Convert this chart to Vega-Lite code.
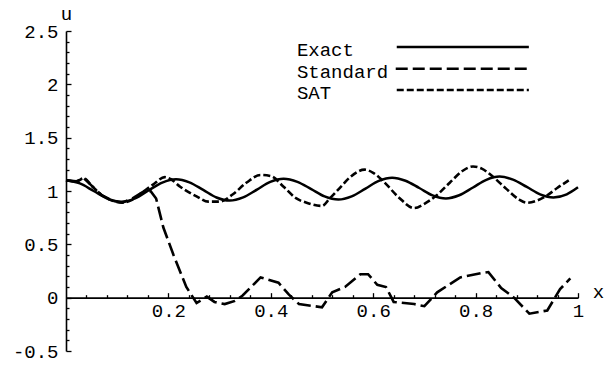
{
  "$schema": "https://vega.github.io/schema/vega-lite/v6.json",
  "width": 512,
  "height": 320,
  "autosize": {"type": "none"},
  "padding": {"left": 66, "top": 31, "right": 32, "bottom": 15},
  "background": "white",
  "config": {
    "view": {"stroke": null},
    "font": "Liberation Mono",
    "axis": {
      "grid": false,
      "domainColor": "black",
      "domainWidth": 1.6,
      "tickColor": "black",
      "tickWidth": 1.3,
      "labelColor": "black",
      "labelFont": "Liberation Mono",
      "labelFontSize": 19,
      "labelOverlap": false,
      "labelFlush": false,
      "titleFont": "Liberation Mono",
      "titleFontSize": 19,
      "titleFontWeight": "normal",
      "titleColor": "black"
    },
    "text": {"font": "Liberation Mono", "fontSize": 19, "color": "black"}
  },
  "datasets": {
    "curves": [
      {"x": 0.0, "u": 1.1, "series": "Exact"},
      {"x": 0.027, "u": 1.071, "series": "Exact"},
      {"x": 0.054, "u": 1.0, "series": "Exact"},
      {"x": 0.081, "u": 0.929, "series": "Exact"},
      {"x": 0.108, "u": 0.9, "series": "Exact"},
      {"x": 0.135, "u": 0.931, "series": "Exact"},
      {"x": 0.161, "u": 1.005, "series": "Exact"},
      {"x": 0.188, "u": 1.079, "series": "Exact"},
      {"x": 0.215, "u": 1.11, "series": "Exact"},
      {"x": 0.241, "u": 1.081, "series": "Exact"},
      {"x": 0.268, "u": 1.01, "series": "Exact"},
      {"x": 0.294, "u": 0.939, "series": "Exact"},
      {"x": 0.32, "u": 0.91, "series": "Exact"},
      {"x": 0.346, "u": 0.94, "series": "Exact"},
      {"x": 0.373, "u": 1.013, "series": "Exact"},
      {"x": 0.399, "u": 1.085, "series": "Exact"},
      {"x": 0.425, "u": 1.115, "series": "Exact"},
      {"x": 0.452, "u": 1.086, "series": "Exact"},
      {"x": 0.479, "u": 1.018, "series": "Exact"},
      {"x": 0.505, "u": 0.949, "series": "Exact"},
      {"x": 0.532, "u": 0.92, "series": "Exact"},
      {"x": 0.558, "u": 0.95, "series": "Exact"},
      {"x": 0.585, "u": 1.023, "series": "Exact"},
      {"x": 0.611, "u": 1.095, "series": "Exact"},
      {"x": 0.637, "u": 1.125, "series": "Exact"},
      {"x": 0.663, "u": 1.096, "series": "Exact"},
      {"x": 0.69, "u": 1.028, "series": "Exact"},
      {"x": 0.716, "u": 0.959, "series": "Exact"},
      {"x": 0.742, "u": 0.93, "series": "Exact"},
      {"x": 0.768, "u": 0.96, "series": "Exact"},
      {"x": 0.795, "u": 1.033, "series": "Exact"},
      {"x": 0.821, "u": 1.105, "series": "Exact"},
      {"x": 0.847, "u": 1.135, "series": "Exact"},
      {"x": 0.873, "u": 1.106, "series": "Exact"},
      {"x": 0.9, "u": 1.038, "series": "Exact"},
      {"x": 0.926, "u": 0.969, "series": "Exact"},
      {"x": 0.952, "u": 0.94, "series": "Exact"},
      {"x": 0.978, "u": 0.969, "series": "Exact"},
      {"x": 1.0, "u": 1.035, "series": "Exact"},

      {"x": 0.0, "u": 1.1, "series": "SAT"},
      {"x": 0.02, "u": 1.09, "series": "SAT"},
      {"x": 0.035, "u": 1.12, "series": "SAT"},
      {"x": 0.05, "u": 1.05, "series": "SAT"},
      {"x": 0.07, "u": 0.96, "series": "SAT"},
      {"x": 0.09, "u": 0.91, "series": "SAT"},
      {"x": 0.11, "u": 0.89, "series": "SAT"},
      {"x": 0.13, "u": 0.92, "series": "SAT"},
      {"x": 0.15, "u": 0.99, "series": "SAT"},
      {"x": 0.17, "u": 1.06, "series": "SAT"},
      {"x": 0.193, "u": 1.13, "series": "SAT"},
      {"x": 0.205, "u": 1.11, "series": "SAT"},
      {"x": 0.223, "u": 1.04, "series": "SAT"},
      {"x": 0.255, "u": 0.95, "series": "SAT"},
      {"x": 0.278, "u": 0.9, "series": "SAT"},
      {"x": 0.3, "u": 0.9, "series": "SAT"},
      {"x": 0.326, "u": 0.97, "series": "SAT"},
      {"x": 0.353, "u": 1.08, "series": "SAT"},
      {"x": 0.38, "u": 1.15, "series": "SAT"},
      {"x": 0.4, "u": 1.14, "series": "SAT"},
      {"x": 0.425, "u": 1.04, "series": "SAT"},
      {"x": 0.45, "u": 0.93, "series": "SAT"},
      {"x": 0.47, "u": 0.89, "series": "SAT"},
      {"x": 0.5, "u": 0.86, "series": "SAT"},
      {"x": 0.515, "u": 0.93, "series": "SAT"},
      {"x": 0.535, "u": 1.03, "series": "SAT"},
      {"x": 0.555, "u": 1.13, "series": "SAT"},
      {"x": 0.583, "u": 1.2, "series": "SAT"},
      {"x": 0.6, "u": 1.17, "series": "SAT"},
      {"x": 0.62, "u": 1.09, "series": "SAT"},
      {"x": 0.65, "u": 0.94, "series": "SAT"},
      {"x": 0.68, "u": 0.84, "series": "SAT"},
      {"x": 0.7, "u": 0.88, "series": "SAT"},
      {"x": 0.724, "u": 0.96, "series": "SAT"},
      {"x": 0.75, "u": 1.08, "series": "SAT"},
      {"x": 0.775, "u": 1.19, "series": "SAT"},
      {"x": 0.795, "u": 1.23, "series": "SAT"},
      {"x": 0.812, "u": 1.21, "series": "SAT"},
      {"x": 0.83, "u": 1.15, "series": "SAT"},
      {"x": 0.86, "u": 1.02, "series": "SAT"},
      {"x": 0.885, "u": 0.92, "series": "SAT"},
      {"x": 0.9, "u": 0.89, "series": "SAT"},
      {"x": 0.92, "u": 0.91, "series": "SAT"},
      {"x": 0.94, "u": 0.96, "series": "SAT"},
      {"x": 0.96, "u": 1.03, "series": "SAT"},
      {"x": 0.982, "u": 1.1, "series": "SAT"},

      {"x": 0.0, "u": 1.1, "series": "Standard"},
      {"x": 0.02, "u": 1.09, "series": "Standard"},
      {"x": 0.035, "u": 1.12, "series": "Standard"},
      {"x": 0.05, "u": 1.05, "series": "Standard"},
      {"x": 0.07, "u": 0.96, "series": "Standard"},
      {"x": 0.09, "u": 0.91, "series": "Standard"},
      {"x": 0.11, "u": 0.89, "series": "Standard"},
      {"x": 0.13, "u": 0.93, "series": "Standard"},
      {"x": 0.15, "u": 0.99, "series": "Standard"},
      {"x": 0.165, "u": 1.0, "series": "Standard"},
      {"x": 0.176, "u": 0.93, "series": "Standard"},
      {"x": 0.19, "u": 0.66, "series": "Standard"},
      {"x": 0.21, "u": 0.4, "series": "Standard"},
      {"x": 0.235, "u": 0.1, "series": "Standard"},
      {"x": 0.255, "u": -0.05, "series": "Standard"},
      {"x": 0.275, "u": 0.01, "series": "Standard"},
      {"x": 0.29, "u": -0.04, "series": "Standard"},
      {"x": 0.31, "u": -0.06, "series": "Standard"},
      {"x": 0.33, "u": -0.03, "series": "Standard"},
      {"x": 0.345, "u": 0.02, "series": "Standard"},
      {"x": 0.38, "u": 0.19, "series": "Standard"},
      {"x": 0.415, "u": 0.14, "series": "Standard"},
      {"x": 0.435, "u": 0.03, "series": "Standard"},
      {"x": 0.455, "u": -0.06, "series": "Standard"},
      {"x": 0.5, "u": -0.09, "series": "Standard"},
      {"x": 0.52, "u": 0.05, "series": "Standard"},
      {"x": 0.545, "u": 0.1, "series": "Standard"},
      {"x": 0.575, "u": 0.22, "series": "Standard"},
      {"x": 0.59, "u": 0.22, "series": "Standard"},
      {"x": 0.608, "u": 0.12, "series": "Standard"},
      {"x": 0.625, "u": 0.1, "series": "Standard"},
      {"x": 0.64, "u": -0.04, "series": "Standard"},
      {"x": 0.68, "u": -0.06, "series": "Standard"},
      {"x": 0.7, "u": -0.08, "series": "Standard"},
      {"x": 0.725, "u": 0.05, "series": "Standard"},
      {"x": 0.77, "u": 0.19, "series": "Standard"},
      {"x": 0.81, "u": 0.23, "series": "Standard"},
      {"x": 0.825, "u": 0.24, "series": "Standard"},
      {"x": 0.85, "u": 0.09, "series": "Standard"},
      {"x": 0.875, "u": 0.0, "series": "Standard"},
      {"x": 0.905, "u": -0.15, "series": "Standard"},
      {"x": 0.94, "u": -0.12, "series": "Standard"},
      {"x": 0.965, "u": 0.08, "series": "Standard"},
      {"x": 0.985, "u": 0.18, "series": "Standard"}
    ],
    "key": [
      {"series": "Exact"}
    ]
  },
  "resolve": {"axis": {"x": "independent", "y": "independent"}},
  "layer": [
    {
      "description": "Invisible carrier for the minor tick marks on both axes",
      "data": {"name": "curves"},
      "mark": {"type": "line", "strokeOpacity": 0},
      "encoding": {
        "x": {
          "field": "x", "type": "quantitative",
          "scale": {"domain": [0, 1], "nice": false, "zero": false},
          "axis": {
            "orient": "bottom", "offset": -53.333, "domain": false, "labels": false,
            "title": null, "tickSize": -3,
            "values": [0.04, 0.08, 0.12, 0.16, 0.24, 0.28, 0.32, 0.36, 0.44, 0.48, 0.52, 0.56, 0.64, 0.68, 0.72, 0.76, 0.84, 0.88, 0.92, 0.96]
          }
        },
        "y": {
          "field": "u", "type": "quantitative",
          "scale": {"domain": [-0.5, 2.5], "nice": false, "zero": false},
          "axis": {
            "orient": "left", "domain": false, "labels": false, "title": null, "tickSize": -3,
            "values": [-0.4, -0.3, -0.2, -0.1, 0.1, 0.2, 0.3, 0.4, 0.6, 0.7, 0.8, 0.9, 1.1, 1.2, 1.3, 1.4, 1.6, 1.7, 1.8, 1.9, 2.1, 2.2, 2.3, 2.4]
          }
        },
        "detail": {"field": "series"}
      }
    },
    {
      "description": "Exact solution, with the major axes",
      "data": {"name": "curves"},
      "transform": [{"filter": "datum.series === 'Exact'"}],
      "mark": {"type": "line", "color": "black", "strokeWidth": 2.5, "interpolate": "monotone"},
      "encoding": {
        "x": {
          "field": "x", "type": "quantitative",
          "scale": {"domain": [0, 1], "nice": false, "zero": false},
          "axis": {
            "orient": "bottom", "offset": -53.333, "tickSize": -5, "labelPadding": 9,
            "values": [0.2, 0.4, 0.6, 0.8, 1], "labelExpr": "'' + datum.value",
            "title": "x", "titleX": 532, "titleY": 0, "titleAlign": "center", "titleBaseline": "alphabetic"
          }
        },
        "y": {
          "field": "u", "type": "quantitative",
          "scale": {"domain": [-0.5, 2.5], "nice": false, "zero": false},
          "axis": {
            "orient": "left", "tickSize": -5, "labelPadding": 13,
            "values": [-0.5, 0, 0.5, 1, 1.5, 2, 2.5], "labelExpr": "'' + datum.value",
            "title": "u", "titleAngle": 0, "titleX": 0, "titleY": -12, "titleAlign": "center", "titleBaseline": "alphabetic"
          }
        }
      }
    },
    {
      "description": "SAT scheme, short dashes",
      "data": {"name": "curves"},
      "transform": [{"filter": "datum.series === 'SAT'"}],
      "mark": {"type": "line", "color": "black", "strokeWidth": 2.6, "strokeDash": [7, 3], "interpolate": "monotone"},
      "encoding": {
        "x": {"field": "x", "type": "quantitative", "scale": {"domain": [0, 1], "nice": false, "zero": false}, "axis": null},
        "y": {"field": "u", "type": "quantitative", "scale": {"domain": [-0.5, 2.5], "nice": false, "zero": false}, "axis": null}
      }
    },
    {
      "description": "Standard scheme, long dashes",
      "data": {"name": "curves"},
      "transform": [{"filter": "datum.series === 'Standard'"}],
      "mark": {"type": "line", "color": "black", "strokeWidth": 2.6, "strokeDash": [14, 5]},
      "encoding": {
        "x": {"field": "x", "type": "quantitative", "scale": {"domain": [0, 1], "nice": false, "zero": false}, "axis": null},
        "y": {"field": "u", "type": "quantitative", "scale": {"domain": [-0.5, 2.5], "nice": false, "zero": false}, "axis": null}
      }
    },
    {
      "description": "Key: Exact",
      "data": {"name": "key"},
      "mark": {"type": "rule", "color": "black", "strokeWidth": 2.5},
      "encoding": {
        "x": {"datum": 0.646, "type": "quantitative", "axis": null},
        "x2": {"datum": 0.904},
        "y": {"datum": 2.35, "type": "quantitative", "axis": null}
      }
    },
    {
      "description": "Key: Standard",
      "data": {"name": "key"},
      "mark": {"type": "rule", "color": "black", "strokeWidth": 2.5, "strokeDash": [12, 5]},
      "encoding": {
        "x": {"datum": 0.644, "type": "quantitative", "axis": null},
        "x2": {"datum": 0.904},
        "y": {"datum": 2.147, "type": "quantitative", "axis": null}
      }
    },
    {
      "description": "Key: SAT",
      "data": {"name": "key"},
      "mark": {"type": "rule", "color": "black", "strokeWidth": 2.5, "strokeDash": [7, 3]},
      "encoding": {
        "x": {"datum": 0.646, "type": "quantitative", "axis": null},
        "x2": {"datum": 0.904},
        "y": {"datum": 1.946, "type": "quantitative", "axis": null}
      }
    },
    {
      "data": {"name": "key"},
      "mark": {"type": "text", "text": "Exact", "align": "left", "baseline": "alphabetic"},
      "encoding": {
        "x": {"datum": 0.451, "type": "quantitative", "axis": null},
        "y": {"datum": 2.267, "type": "quantitative", "axis": null}
      }
    },
    {
      "data": {"name": "key"},
      "mark": {"type": "text", "text": "Standard", "align": "left", "baseline": "alphabetic"},
      "encoding": {
        "x": {"datum": 0.451, "type": "quantitative", "axis": null},
        "y": {"datum": 2.062, "type": "quantitative", "axis": null}
      }
    },
    {
      "data": {"name": "key"},
      "mark": {"type": "text", "text": "SAT", "align": "left", "baseline": "alphabetic"},
      "encoding": {
        "x": {"datum": 0.451, "type": "quantitative", "axis": null},
        "y": {"datum": 1.863, "type": "quantitative", "axis": null}
      }
    }
  ]
}
